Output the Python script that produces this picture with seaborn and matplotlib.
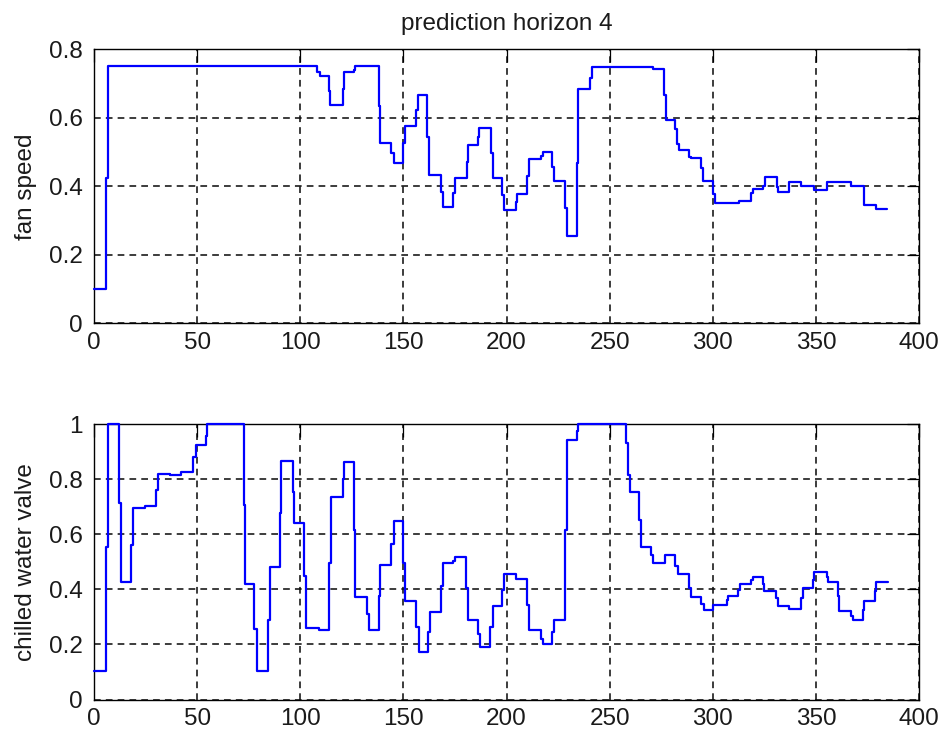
import matplotlib
matplotlib.use("Agg")
import matplotlib.pyplot as plt
import seaborn as sns
import pandas as pd

# ---------------- data (step change times and held values) ----------------
fan_t = [0, 5.8, 6.8, 108, 109.4, 113.7, 114.6, 120.5, 121.2, 126, 126.7, 138,
         138.6, 144.2, 145.3, 150, 150.6, 156.3, 157.1, 161.6, 162.6, 168, 169,
         174.1, 174.8, 180.7, 181.4, 186, 186.7, 192.6, 193.4, 197.9, 198.7, 204.4,
         205.2, 210, 210.8, 216.5, 217.6, 222.2, 223, 228.3, 229.1, 234, 234.8,
         240.4, 241.3, 271.2, 276.4, 277.2, 281.7, 282.5, 283.6, 288.5, 289.3,
         294.2, 295.3, 300.3, 301.1, 312.5, 318.4, 319.6, 324.4, 325.2, 330.9,
         331.7, 337, 342.7, 349, 355.5, 367.2, 373.2, 379.1]
fan_v = [0.10, 0.425, 0.75, 0.733, 0.722, 0.679, 0.637, 0.684, 0.733, 0.740, 0.750, 0.635,
         0.525, 0.496, 0.467, 0.525, 0.576, 0.623, 0.667, 0.545, 0.433, 0.384, 0.339,
         0.380, 0.423, 0.470, 0.521, 0.545, 0.571, 0.496, 0.423, 0.375, 0.331, 0.355,
         0.378, 0.430, 0.479, 0.488, 0.499, 0.457, 0.416, 0.336, 0.255, 0.467, 0.683,
         0.715, 0.749, 0.743, 0.667, 0.594, 0.566, 0.523, 0.506, 0.486, 0.482,
         0.452, 0.415, 0.378, 0.350, 0.358, 0.380, 0.392, 0.402, 0.428, 0.399,
         0.384, 0.411, 0.402, 0.389, 0.413, 0.402, 0.345, 0.333]
fan_end = 384.6

valve_t = [0, 5.8, 6.6, 12.3, 13.1, 18, 18.8, 24.8, 29.9, 30.9, 36.9, 42.2, 48.2,
           49.4, 54.2, 55, 72.5, 73.3, 77.8, 79, 84.3, 85.4, 90, 90.8, 96.3, 97.1,
           101.6, 102.8, 108.9, 113.7, 114.9, 120.5, 121.4, 125.9, 126.7, 132.4,
           133.2, 138, 138.8, 144.2, 145.3, 149.9, 151, 156.3, 157.4, 162, 162.8,
           168.3, 169.3, 174.1, 174.9, 180.4, 181.2, 186, 186.9, 192.2, 193.4,
           197.9, 198.7, 204.6, 210, 210.8, 216.5, 217.5, 222.2, 223, 228.3, 229.1,
           234, 234.8, 257.8, 258.7, 259.7, 264.2, 265, 269.9, 271, 276.7, 281.7,
           282.9, 288.5, 289.3, 294.2, 295.5, 300.3, 301.1, 306.8, 307.6, 312.3,
           313.1, 318.6, 319.5, 324.2, 325, 330.7, 331.4, 337, 342.8, 343.5, 348.5,
           349.2, 355.4, 355.9, 360.6, 361.3, 367.1, 367.8, 372.8, 373.4, 378.6, 379.2]
valve_v = [0.103, 0.553, 1.0, 0.716, 0.427, 0.56, 0.695, 0.704, 0.762, 0.821, 0.816,
           0.828, 0.883, 0.925, 0.959, 1.0, 0.707, 0.421, 0.258, 0.105, 0.29, 0.481,
           0.677, 0.868, 0.753, 0.641, 0.45, 0.26, 0.254, 0.498, 0.738, 0.802,
           0.862, 0.617, 0.372, 0.312, 0.254, 0.378, 0.49, 0.566, 0.649, 0.496,
           0.359, 0.262, 0.173, 0.244, 0.318, 0.411, 0.496, 0.502, 0.518, 0.405,
           0.288, 0.239, 0.191, 0.264, 0.339, 0.397, 0.456, 0.439, 0.342, 0.252,
           0.22, 0.2, 0.244, 0.288, 0.617, 0.943, 0.976, 1.0, 0.933, 0.816, 0.753,
           0.653, 0.553, 0.526, 0.496, 0.524, 0.484, 0.456, 0.405, 0.371, 0.347,
           0.324, 0.342, 0.345, 0.363, 0.378, 0.399, 0.42, 0.435, 0.447, 0.42,
           0.395, 0.37, 0.341, 0.33, 0.37, 0.405, 0.435, 0.462, 0.445, 0.429,
           0.375, 0.323, 0.305, 0.288, 0.325, 0.359, 0.393, 0.427]
valve_end = 384.8

x_ticks = [0, 50, 100, 150, 200, 250, 300, 350, 400]
x_tick_labels = ["0", "50", "100", "150", "200", "250", "300", "350", "400"]
fan_ticks = [0, 0.2, 0.4, 0.6, 0.8]
fan_tick_labels = ["0", "0.2", "0.4", "0.6", "0.8"]
valve_ticks = [0, 0.2, 0.4, 0.6, 0.8, 1.0]
valve_tick_labels = ["0", "0.2", "0.4", "0.6", "0.8", "1"]

title = "prediction horizon 4"
fan_label = "fan speed"
valve_label = "chilled water valve"

# ---------------- style ----------------
sns.set_theme(style="white")
plt.rcParams["font.family"] = ["Liberation Sans", "DejaVu Sans"]
FS = 17.5

fig = plt.figure(figsize=(9.44, 7.33), dpi=100, facecolor="white")
ax1 = fig.add_axes([0.0996, 0.559, 0.874, 0.3738])
ax2 = fig.add_axes([0.0996, 0.0457, 0.874, 0.3752])


def step_frame(t, v, end):
    return pd.DataFrame({"t": list(t) + [end], "v": list(v) + [v[-1]]})


def style_axes(ax, yticks, ylabels, ylim, ylabel):
    ax.set_xlim(0, 400)
    ax.set_ylim(*ylim)
    ax.set_xticks(x_ticks)
    ax.set_xticklabels(x_tick_labels)
    ax.set_yticks(yticks)
    ax.set_yticklabels(ylabels)
    ax.grid(True, color="#111111", linestyle=(0, (4.2, 3.2)), linewidth=1.15)
    ax.set_axisbelow(True)
    ax.tick_params(axis="both", which="major", direction="in", length=9,
                   width=0.9, color="black", top=True, right=True,
                   labelsize=FS, labelcolor="#1a1a1a")
    ax.tick_params(axis="y", pad=8)
    ax.tick_params(axis="x", pad=6)
    for s in ax.spines.values():
        s.set_visible(True)
        s.set_color("black")
        s.set_linewidth(1.0)
    ax.set_xlabel("")
    ax.set_ylabel(ylabel, fontsize=FS, color="#1a1a1a", labelpad=8.5)
    ax.set_facecolor("white")


df_fan = step_frame(fan_t, fan_v, fan_end)
df_valve = step_frame(valve_t, valve_v, valve_end)

sns.lineplot(data=df_fan, x="t", y="v", ax=ax1, color="#0000ff", linewidth=1.6,
             drawstyle="steps-post", estimator=None, sort=False, clip_on=False,
             zorder=3)
sns.lineplot(data=df_valve, x="t", y="v", ax=ax2, color="#0000ff", linewidth=1.6,
             drawstyle="steps-post", estimator=None, sort=False, clip_on=False,
             zorder=3)

style_axes(ax1, fan_ticks, fan_tick_labels, (0, 0.8), fan_label)
style_axes(ax2, valve_ticks, valve_tick_labels, (0, 1.0), valve_label)
ax1.set_title(title, fontsize=FS, color="#1a1a1a", pad=14)

fig.savefig("out.png", dpi=100, facecolor="white")
